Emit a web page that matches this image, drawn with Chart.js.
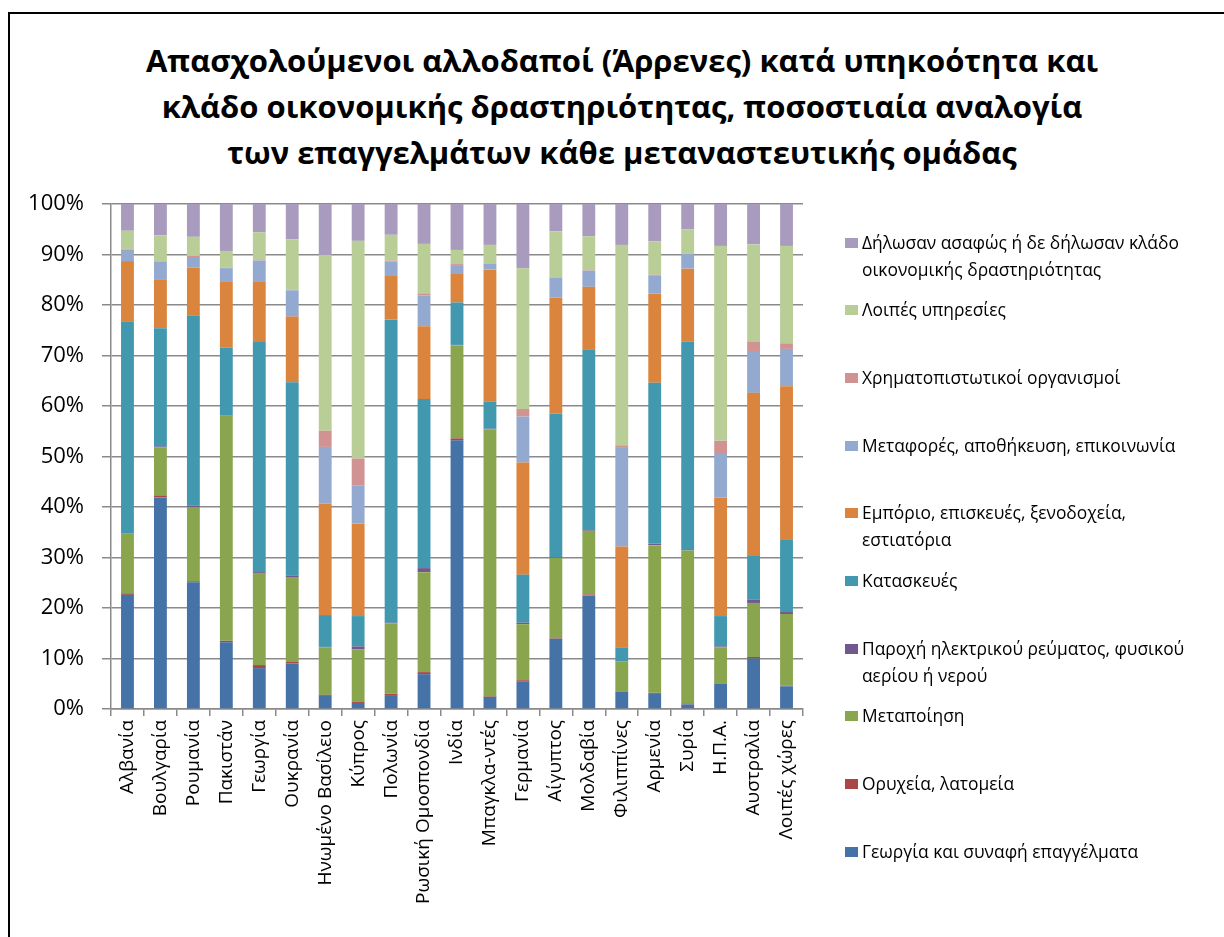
<!DOCTYPE html>
<html lang="el">
<head>
<meta charset="utf-8">
<title>Απασχολούμενοι αλλοδαποί (Άρρενες)</title>
<script src="https://cdn.jsdelivr.net/npm/chart.js@4"></script>
<style>
  html, body { margin: 0; padding: 0; background: #fff; overflow: hidden; }
  body { width: 1224px; height: 937px; position: relative; font-family: 'Open Sans', sans-serif; }
  #frame { position: absolute; left: 8px; top: 12px; width: 1240px; height: 960px;
           border-left: 2px solid #000; border-top: 2px solid #000; }
  #chartTitle { position: absolute; left: 0; top: 37px; width: 1244px; text-align: center;
                font-weight: bold; font-size: 31px; line-height: 46px; color: #000; }
  #chartBox { position: absolute; left: 0; top: 0; }
  #legend { position: absolute; left: 845px; top: 0; }
  .item { position: absolute; left: 0; width: 380px; }
  .swatch { position: absolute; left: 0; top: 9px; width: 13px; height: 10px; }
  .text { position: absolute; left: 17px; top: 0; white-space: pre; font-size: 17.4px; line-height: 27px; color: #000; }
</style>
</head>
<body>
<div id="frame"></div>
<div id="chartTitle">Απασχολούμενοι αλλοδαποί (Άρρενες) κατά υπηκοότητα και<br>κλάδο οικονομικής δραστηριότητας, ποσοστιαία αναλογία<br>των επαγγελμάτων κάθε μεταναστευτικής ομάδας</div>
<div id="chartBox"><canvas id="chart" width="1224" height="937"></canvas></div>
<div id="legend"></div>
<script>
// Categories (nationalities)
const countries = ["Αλβανία", "Βουλγαρία", "Ρουμανία", "Πακιστάν", "Γεωργία", "Ουκρανία",
  "Ηνωμένο Βασίλειο", "Κύπρος", "Πολωνία", "Ρωσική Ομοσπονδία", "Ινδία", "Μπαγκλα-ντές",
  "Γερμανία", "Αίγυπτος", "Μολδαβία", "Φιλιππίνες", "Αρμενία", "Συρία", "Η.Π.Α.",
  "Αυστραλία", "Λοιπές χώρες"];

// Series names, bottom of the stack first
const sectorNames = [
  "Γεωργία και συναφή επαγγέλματα",
  "Ορυχεία, λατομεία",
  "Μεταποίηση",
  "Παροχή ηλεκτρικού ρεύματος, φυσικού\nαερίου ή νερού",
  "Κατασκευές",
  "Εμπόριο, επισκευές, ξενοδοχεία,\nεστιατόρια",
  "Μεταφορές, αποθήκευση, επικοινωνία",
  "Χρηματοπιστωτικοί οργανισμοί",
  "Λοιπές υπηρεσίες",
  "Δήλωσαν ασαφώς ή δε δήλωσαν κλάδο\nοικονομικής δραστηριότητας"
];

const sectorColors = ["#4572A7", "#AA4643", "#89A54E", "#71588F", "#4198AF",
  "#DB843D", "#93A9CF", "#D19392", "#B9CD96", "#A99BBD"];

// Percentages per country
const agriculture   = [22.6, 41.9, 25.1, 13.2, 8.1, 9.0, 2.6, 1.2, 2.6, 6.9, 53.2, 2.4, 5.5, 13.9, 22.5, 3.4, 3.0, 0.9, 5.0, 10.0, 4.5];
const mining        = [0.3, 0.4, 0.2, 0.3, 0.6, 0.3, 0.2, 0.2, 0.4, 0.4, 0.4, 0.1, 0.2, 0.1, 0.2, 0.1, 0.2, 0.1, 0.1, 0.3, 0.1];
const manufacturing = [11.8, 9.5, 14.7, 44.5, 18.1, 16.7, 9.4, 10.4, 14.0, 19.8, 18.4, 52.9, 11.1, 15.9, 12.6, 5.9, 29.2, 30.4, 7.1, 10.7, 14.2];
const utilities     = [0.1, 0.2, 0.3, 0.1, 0.3, 0.4, 0.1, 0.6, 0.1, 0.8, 0.1, 0.1, 0.3, 0.1, 0.3, 0.1, 0.3, 0.1, 0.2, 0.7, 0.4];
const construction  = [42.0, 23.4, 37.6, 13.5, 45.7, 38.3, 6.3, 6.0, 60.0, 33.5, 8.4, 5.4, 9.5, 28.5, 35.5, 2.7, 31.9, 41.2, 6.0, 8.6, 14.4];
const trade         = [11.9, 9.7, 9.5, 13.1, 11.9, 13.0, 22.1, 18.3, 8.8, 14.4, 5.8, 26.1, 22.2, 23.0, 12.5, 20.0, 17.7, 14.5, 23.5, 32.3, 30.3];
const transport     = [2.3, 3.5, 2.1, 2.6, 4.1, 5.2, 11.2, 7.6, 2.7, 6.1, 1.6, 1.2, 9.1, 3.9, 3.2, 19.5, 3.6, 2.9, 8.6, 8.1, 7.4];
const finance       = [0.1, 0.1, 0.2, 0.1, 0.1, 0.1, 3.2, 5.3, 0.2, 0.4, 0.2, 0.1, 1.5, 0.1, 0.1, 0.5, 0.1, 0.1, 2.6, 2.1, 1.1];
const otherServices = [3.6, 5.1, 3.8, 3.3, 5.5, 10.0, 34.8, 43.1, 5.1, 9.8, 2.8, 3.6, 27.9, 9.1, 6.7, 39.7, 6.6, 4.8, 38.6, 19.2, 19.3];
const undeclared    = [5.3, 6.2, 6.5, 9.3, 5.6, 7.0, 10.1, 7.3, 6.1, 7.9, 9.1, 8.1, 12.7, 5.4, 6.4, 8.1, 7.4, 5.0, 8.3, 8.0, 8.3];

const yTicks = [0, 10, 20, 30, 40, 50, 60, 70, 80, 90, 100];

const seriesValues = [agriculture, mining, manufacturing, utilities, construction,
  trade, transport, finance, otherServices, undeclared];

Chart.defaults.font.family = "'Open Sans', sans-serif";
Chart.defaults.color = '#000';

const datasets = seriesValues.map(function(vals, i) {
  return {
    label: sectorNames[i].replace('\n', ' '),
    data: vals,
    backgroundColor: sectorColors[i],
    borderWidth: 0,
    barPercentage: 0.39,
    categoryPercentage: 1.0
  };
});

const gridGray = '#8a8a8a';

const ctx = document.getElementById('chart').getContext('2d');
const chart = new Chart(ctx, {
  type: 'bar',
  data: { labels: countries, datasets: datasets },
  options: {
    responsive: false,
    animation: false,
    layout: { padding: { top: 204, left: 0, right: 421, bottom: 0 } },
    plugins: {
      legend: { display: false },
      title: { display: false },
      tooltip: { enabled: false }
    },
    scales: {
      x: {
        stacked: true,
        afterFit: function(s) { s.height = 228; },
        grid: { offset: true, drawOnChartArea: false, color: gridGray, tickLength: 7, lineWidth: 1.5 },
        border: { color: gridGray, width: 1.5 },
        ticks: { minRotation: 90, maxRotation: 90, autoSkip: false, padding: 4, font: { size: 19 } }
      },
      y: {
        stacked: true,
        min: 0,
        max: 100,
        afterFit: function(s) { s.width = 111; },
        afterBuildTicks: function(s) { s.ticks = yTicks.map(v => ({ value: v })); },
        grid: { color: gridGray, tickLength: 9, lineWidth: 1.5 },
        border: { color: gridGray, width: 1.5 },
        ticks: { padding: 18, font: { size: 22 }, callback: v => v + '%' }
      }
    }
  }
});

// Legend on the right, top item = last series
const legend = document.getElementById('legend');
for (let k = 0; k < sectorNames.length; k++) {
  const i = sectorNames.length - 1 - k;
  const item = document.createElement('div');
  item.className = 'item';
  item.style.top = (242 - 13.5 + k * 67.7) + 'px';
  const sw = document.createElement('div');
  sw.className = 'swatch';
  sw.style.background = sectorColors[i];
  const tx = document.createElement('div');
  tx.className = 'text';
  tx.textContent = sectorNames[i];
  item.appendChild(sw);
  item.appendChild(tx);
  legend.appendChild(item);
}
</script>
</body>
</html>
